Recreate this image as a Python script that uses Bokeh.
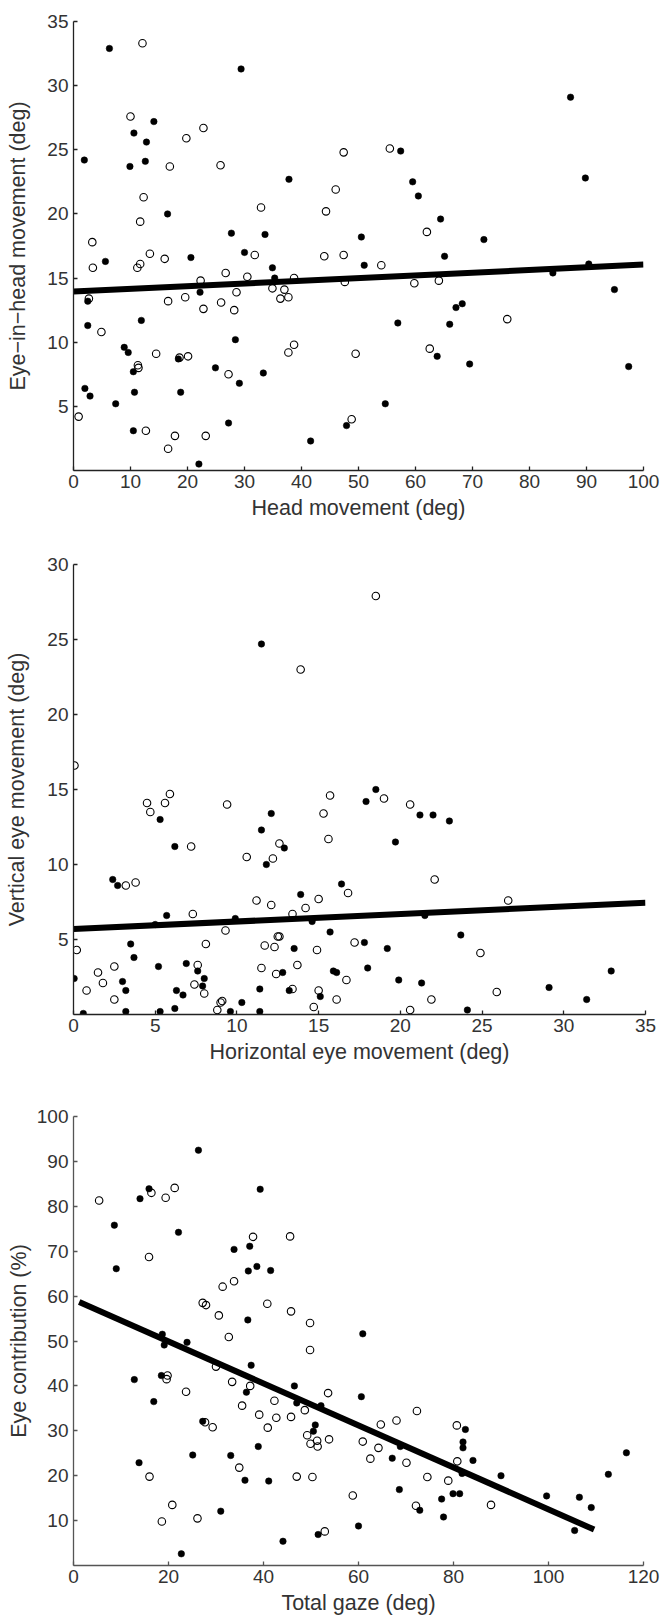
from bokeh.plotting import figure
from bokeh.layouts import column
from bokeh.models import Range1d, FixedTicker
from bokeh.embed import file_html
from bokeh.resources import INLINE

# ---------------- Panel 1: Head movement vs Eye-in-head movement ----------------
p1_filled_x = [6.3, 29.4, 14.1, 10.6, 12.8, 1.9, 9.9, 12.6, 37.8, 16.5, 27.7, 33.6, 50.5,
               87.2, 57.4, 59.5, 60.5, 89.8, 64.4, 72.0,
               20.6, 30.0, 51.0, 5.6, 34.9, 35.3, 22.2, 2.5, 11.9, 2.5, 28.4, 8.9, 9.6, 18.4,
               24.9, 10.5, 33.3, 29.1, 2.0, 2.9, 10.7, 18.8, 7.4, 47.9, 27.2, 10.5, 41.6, 22.0,
               65.1, 84.1, 90.4, 94.9, 68.2, 67.1, 56.9, 66.0, 63.8, 69.5, 97.4, 54.7]
p1_filled_y = [32.9, 31.3, 27.2, 26.3, 25.6, 24.2, 23.7, 24.1, 22.7, 20.0, 18.5, 18.4, 18.2,
               29.1, 24.9, 22.5, 21.4, 22.8, 19.6, 18.0,
               16.6, 17.0, 16.0, 16.3, 15.8, 15.0, 13.9, 13.2, 11.7, 11.3, 10.2, 9.6, 9.2, 8.7,
               8.0, 7.7, 7.6, 6.8, 6.4, 5.8, 6.1, 6.1, 5.2, 3.5, 3.7, 3.1, 2.3, 0.5,
               16.7, 15.4, 16.1, 14.1, 13.0, 12.7, 11.5, 11.4, 8.9, 8.3, 8.1, 5.2]
p1_open_x = [12.1, 10.0, 19.8, 22.8, 47.4, 16.9, 25.8, 46.0, 12.3, 32.9, 44.3, 11.7, 3.3,
             55.5, 62.0,
             13.4, 16.0, 31.8, 44.0, 47.4, 11.7, 11.2, 3.4, 26.7, 30.5, 38.7, 22.3, 28.6, 34.9,
             37.0, 47.6, 2.7, 16.6, 19.6, 25.9, 36.3, 37.7, 22.8, 28.2, 4.9, 38.7, 14.5, 37.7,
             49.5, 20.1, 18.6, 11.3, 11.4, 27.2, 0.9, 48.8, 12.7, 17.8, 23.2, 16.6,
             54.0, 59.8, 64.1, 76.1, 62.5]
p1_open_y = [33.3, 27.6, 25.9, 26.7, 24.8, 23.7, 23.8, 21.9, 21.3, 20.5, 20.2, 19.4, 17.8,
             25.1, 18.6,
             16.9, 16.5, 16.8, 16.7, 16.8, 16.1, 15.8, 15.8, 15.4, 15.1, 15.0, 14.8, 13.9, 14.2,
             14.1, 14.7, 13.4, 13.2, 13.5, 13.1, 13.4, 13.5, 12.6, 12.5, 10.8, 9.8, 9.1, 9.2,
             9.1, 8.9, 8.8, 8.2, 8.0, 7.5, 4.2, 4.0, 3.1, 2.7, 2.7, 1.7,
             16.0, 14.6, 14.8, 11.8, 9.5]
p1_fit_x = [0, 100]
p1_fit_y = [13.95, 16.05]
p1_xticks = [0, 10, 20, 30, 40, 50, 60, 70, 80, 90, 100]
p1_yticks = [5, 10, 15, 20, 25, 30, 35]

# ---------------- Panel 2: Horizontal vs Vertical eye movement ----------------
p2_filled_x = [11.5, 17.9, 18.5, 5.3, 12.1, 11.5, 6.2, 12.9, 11.8, 2.4, 2.7, 16.4, 13.9, 5.7,
               5.0, 9.9, 14.6, 15.7, 3.5, 13.5, 17.8, 3.7, 5.2, 6.9, 7.6, 8.0, 12.8, 15.9, 16.1,
               18.0, 0.04, 3.0, 3.2, 7.9, 6.3, 6.7, 11.4, 13.2, 15.1, 10.3, 3.2, 5.3, 6.2, 9.6,
               11.4, 0.6,
               21.2, 22.0, 23.0, 19.7, 21.5, 23.7, 19.2, 19.9, 21.3, 32.9, 29.1, 31.4, 24.1]
p2_filled_y = [24.7, 14.2, 15.0, 13.0, 13.4, 12.3, 11.2, 11.1, 10.0, 9.0, 8.6, 8.7, 8.0, 6.6,
               6.0, 6.4, 6.2, 5.5, 4.7, 4.4, 4.8, 3.8, 3.2, 3.4, 2.9, 2.4, 2.8, 2.9, 2.8,
               3.1, 2.4, 2.2, 1.6, 1.9, 1.6, 1.3, 1.7, 1.6, 1.2, 0.8, 0.2, 0.2, 0.4, 0.2,
               0.2, 0.07,
               13.3, 13.3, 12.9, 11.5, 6.6, 5.3, 4.4, 2.3, 2.1, 2.9, 1.8, 1.0, 0.3]
p2_open_x = [13.9, 0.06, 4.5, 5.9, 5.6, 9.4, 15.7, 18.5, 19.0, 20.6,
             4.7, 15.3, 15.6, 7.2, 12.6, 10.6, 12.2, 3.2, 3.8, 16.8, 11.2, 15.0, 12.1, 14.2,
             13.4, 7.3, 9.3, 8.1, 11.7, 12.3, 12.5, 12.6, 14.9, 17.2, 0.2, 2.5, 7.6, 11.5, 13.7,
             12.4, 16.7, 1.5, 1.8, 0.8, 7.4, 8.0, 13.4, 15.0, 2.5, 16.1, 9.0, 9.1, 8.8, 14.7,
             22.1, 26.6, 24.9, 25.9, 21.9, 20.6]
p2_open_y = [23.0, 16.6, 14.1, 14.7, 14.1, 14.0, 14.6, 27.9, 14.4, 14.0,
             13.5, 13.4, 11.7, 11.2, 11.4, 10.5, 10.4, 8.6, 8.8, 8.1, 7.6, 7.7, 7.3, 7.1,
             6.7, 6.7, 5.6, 4.7, 4.6, 4.5, 5.2, 5.2, 4.3, 4.8, 4.3, 3.2, 3.3, 3.1, 3.3,
             2.7, 2.3, 2.8, 2.1, 1.6, 2.0, 1.4, 1.7, 1.6, 1.0, 1.0, 0.8, 0.9, 0.3, 0.5,
             9.0, 7.6, 4.1, 1.5, 1.0, 0.3]
p2_fit_x = [0, 35]
p2_fit_y = [5.7, 7.45]
p2_xticks = [0, 5, 10, 15, 20, 25, 30, 35]
p2_yticks = [5, 10, 15, 20, 25, 30]

# ---------------- Panel 3: Total gaze vs Eye contribution ----------------
p3_filled_x = [26.3, 8.6, 9.0, 15.9, 14.0, 39.3, 22.1, 37.1, 33.8, 38.6, 36.8, 41.5, 36.7, 60.9,
               18.7, 19.1, 23.9,
               37.4, 12.8, 18.5, 46.5, 36.4, 60.6, 16.9, 47.0, 52.1, 27.2, 50.9, 50.5, 38.9,
               25.1, 33.1, 13.8, 36.1, 41.1, 31.0, 60.0, 51.5, 44.1, 22.7,
               82.5, 82.0, 82.0, 68.8, 67.1, 84.1, 81.8, 90.0, 68.6, 79.9, 81.3, 77.5, 99.6,
               106.5, 109.0, 112.6, 116.4, 72.9, 77.9, 105.5]
p3_filled_y = [92.5, 75.8, 66.1, 83.9, 81.7, 83.8, 74.2, 71.1, 70.4, 66.6, 65.6, 65.7, 54.7, 51.6,
               51.5, 49.1, 49.7,
               44.6, 41.4, 42.3, 40.0, 38.6, 37.6, 36.5, 36.2, 35.6, 32.1, 31.3, 29.9, 26.5,
               24.6, 24.5, 22.9, 19.0, 18.8, 12.1, 8.8, 6.9, 5.4, 2.6,
               30.3, 27.5, 26.2, 26.5, 23.9, 23.4, 20.5, 20.0, 16.9, 16.0, 16.0, 14.8, 15.5,
               15.2, 12.9, 20.3, 25.1, 12.3, 10.8, 7.8]
p3_open_x = [5.4, 16.4, 19.4, 21.3, 15.9, 37.8, 45.6, 33.8, 31.4, 27.2, 27.9, 40.8, 30.6, 45.8,
             49.8, 32.7, 49.8,
             30.0, 19.8, 19.6, 33.4, 37.2, 23.7, 53.6, 42.3, 35.5, 48.7, 39.1, 42.7, 45.8, 27.7,
             29.3, 40.9, 49.2, 51.3, 49.9, 51.4, 53.8, 60.9, 62.5, 34.9, 16.0, 47.0, 50.3, 58.8,
             20.8, 18.6, 26.1, 52.9,
             72.3, 64.7, 68.0, 80.7, 64.2, 70.1, 80.8, 74.5, 78.9, 72.1, 87.9]
p3_open_y = [81.3, 83.0, 81.9, 84.1, 68.7, 73.2, 73.3, 63.3, 62.1, 58.5, 58.0, 58.3, 55.7, 56.6,
             54.0, 50.9, 48.0,
             44.3, 42.3, 41.5, 40.9, 40.0, 38.7, 38.4, 36.7, 35.6, 34.6, 33.6, 32.9, 33.1, 31.9,
             30.8, 30.7, 29.0, 27.8, 27.1, 26.5, 28.1, 27.6, 23.8, 21.8, 19.8, 19.8, 19.7, 15.6,
             13.5, 9.8, 10.5, 7.6,
             34.4, 31.4, 32.3, 31.2, 26.2, 22.9, 23.2, 19.7, 18.9, 13.3, 13.5]
p3_fit_x = [1.2, 109.6]
p3_fit_y = [58.7, 8.0]
p3_xticks = [0, 20, 40, 60, 80, 100, 120]
p3_yticks = [10, 20, 30, 40, 50, 60, 70, 80, 90, 100]

FONT = "Liberation Sans"
TEXT = "#333333"


def make(xr, yr, fw, fh, bl, br, bt, bb, xticks, yticks, xlabel, ylabel,
         axis_color, ylabel_standoff):
    p = figure(x_range=xr, y_range=yr, frame_width=fw, frame_height=fh,
               min_border_left=bl, min_border_right=br, min_border_top=bt,
               min_border_bottom=bb, output_backend="svg", toolbar_location=None,
               outline_line_color=None, background_fill_color="white",
               border_fill_color="white")
    p.grid.visible = False
    p.xaxis.ticker = FixedTicker(ticks=xticks)
    p.yaxis.ticker = FixedTicker(ticks=yticks)
    p.xaxis.axis_label = xlabel
    p.yaxis.axis_label = ylabel
    for ax in (p.xaxis, p.yaxis):
        ax.axis_line_color = axis_color
        ax.axis_line_width = 1.3
        ax.major_tick_line_color = axis_color
        ax.major_tick_line_width = 1.3
        ax.major_tick_in = 4
        ax.major_tick_out = 0
        ax.minor_tick_line_color = None
        ax.major_label_text_font = FONT
        ax.major_label_text_font_size = "19px"
        ax.major_label_text_color = TEXT
        ax.axis_label_text_font = FONT
        ax.axis_label_text_font_size = "21.5px"
        ax.axis_label_text_font_style = "normal"
        ax.axis_label_text_color = TEXT
    p.xaxis.major_label_standoff = 4
    p.yaxis.major_label_standoff = 5
    p.xaxis.axis_label_standoff = 5
    p.yaxis.axis_label_standoff = ylabel_standoff
    return p


def add_data(p, fx, fy, ox, oy, lx, ly):
    p.scatter(ox, oy, marker="circle", size=7.5, fill_color=None,
              line_color="black", line_width=1.1)
    p.scatter(fx, fy, marker="circle", size=6.5, fill_color="black",
              line_color="black", line_width=0.5)
    p.line(lx, ly, line_width=6, line_color="black")


p1 = make(Range1d(0, 100), Range1d(0, 35), 570, 449, 72, 22, 21, 60,
          p1_xticks, p1_yticks, "Head movement (deg)", "Eye\u2212in\u2212head movement (deg)",
          "#222222", 14)
add_data(p1, p1_filled_x, p1_filled_y, p1_open_x, p1_open_y, p1_fit_x, p1_fit_y)

p2 = make(Range1d(0, 35), Range1d(0, 30), 572, 450, 73, 19, 34, 60,
          p2_xticks, p2_yticks, "Horizontal eye movement (deg)", "Vertical eye movement (deg)",
          "#222222", 15)
add_data(p2, p2_filled_x, p2_filled_y, p2_open_x, p2_open_y, p2_fit_x, p2_fit_y)

p3 = make(Range1d(0, 120), Range1d(0, 100), 570, 449, 73, 21, 42, 54,
          p3_xticks, p3_yticks, "Total gaze (deg)", "Eye contribution (%)",
          "#555555", 3)
add_data(p3, p3_filled_x, p3_filled_y, p3_open_x, p3_open_y, p3_fit_x, p3_fit_y)

layout = column(p1, p2, p3, spacing=0)
open("out.html", "w").write(file_html(layout, INLINE))
